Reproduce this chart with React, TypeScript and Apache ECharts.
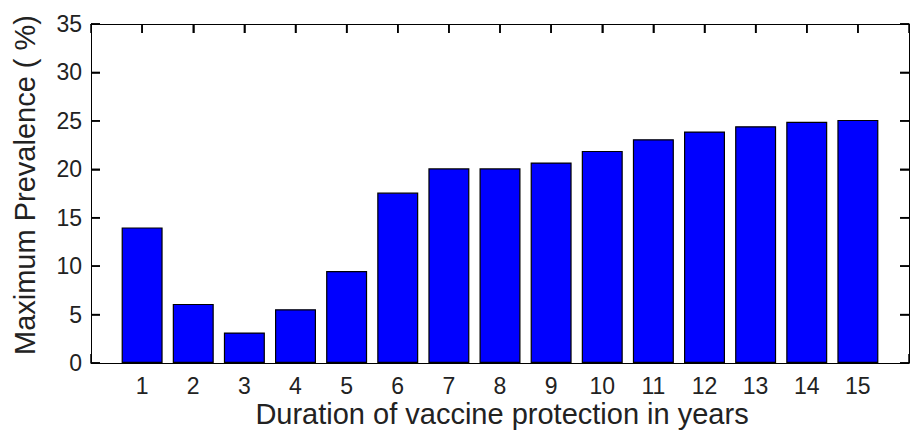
import React, { useEffect, useRef } from "react";
import * as echarts from "echarts";

const years = [1, 2, 3, 4, 5, 6, 7, 8, 9, 10, 11, 12, 13, 14, 15];
const prevalence = [14.0, 6.1, 3.15, 5.55, 9.5, 17.6, 20.1, 20.1, 20.7, 21.9, 23.1, 23.9, 24.45, 24.9, 25.1];
const yTicks = [0, 5, 10, 15, 20, 25, 30, 35];
const xTitle = "Duration of vaccine protection in years";
const yTitle = "Maximum Prevalence ( %)";

const FONT = "'Liberation Sans', Arial, Helvetica, sans-serif";
const X_MIN = 0;
const X_MAX = 16;
const Y_MIN = 0;
const Y_MAX = 35;
const TICK = 9;

const mkLine = () => ({ show: true, onZero: false, lineStyle: { color: "#000", width: 1 } });
const mkTick = () => ({ show: true, inside: true, length: TICK, lineStyle: { color: "#000", width: 1.5 } });

export default function App() {
  const ref = useRef<HTMLDivElement>(null);
  useEffect(() => {
    if (!ref.current) return;
    const chart = echarts.init(ref.current, undefined, { renderer: "svg" });
    const tickStyle = { stroke: "#000", lineWidth: 1.5 };
    chart.setOption({
      animation: false,
      backgroundColor: "#fff",
      grid: { left: 91, top: 24, width: 829, height: 339 },
      xAxis: [
        {
          type: "value",
          min: X_MIN,
          max: X_MAX,
          interval: 1,
          position: "bottom",
          axisLine: mkLine(),
          axisTick: mkTick(),
          splitLine: { show: false },
          axisLabel: {
            margin: 11,
            fontSize: 23,
            fontFamily: FONT,
            color: "#222",
            formatter: (v: number) => (years.indexOf(v) >= 0 ? String(v) : ""),
          },
        },
        {
          type: "value",
          min: X_MIN,
          max: X_MAX,
          interval: 1,
          position: "top",
          axisLine: mkLine(),
          axisTick: mkTick(),
          splitLine: { show: false },
          axisLabel: { show: false },
        },
      ],
      yAxis: [
        {
          type: "value",
          min: Y_MIN,
          max: Y_MAX,
          interval: 5,
          position: "left",
          axisLine: mkLine(),
          axisTick: mkTick(),
          splitLine: { show: false },
          axisLabel: {
            margin: 9,
            fontSize: 23,
            fontFamily: FONT,
            color: "#222",
            formatter: (v: number) => (yTicks.indexOf(v) >= 0 ? String(v) : ""),
          },
        },
        {
          type: "value",
          min: Y_MIN,
          max: Y_MAX,
          interval: 5,
          position: "right",
          axisLine: mkLine(),
          axisTick: mkTick(),
          splitLine: { show: false },
          axisLabel: { show: false },
        },
      ],
      series: [
        {
          type: "custom",
          xAxisIndex: 0,
          yAxisIndex: 0,
          z: 3,
          clip: false,
          silent: true,
          data: yTicks.map((y) => [X_MIN, y]),
          encode: { x: 0, y: 1 },
          renderItem: (params: any, api: any) => {
            const v = api.value(1);
            const l = api.coord([X_MIN, v]);
            const r = api.coord([X_MAX, v]);
            return {
              type: "group",
              children: [
                { type: "line", shape: { x1: l[0], y1: l[1], x2: l[0] + TICK, y2: l[1] }, style: tickStyle },
                { type: "line", shape: { x1: r[0], y1: r[1], x2: r[0] - TICK, y2: r[1] }, style: tickStyle },
              ],
            };
          },
        },
        {
          type: "custom",
          xAxisIndex: 0,
          yAxisIndex: 0,
          z: 1,
          clip: false,
          silent: true,
          data: years.map((y) => [y, Y_MAX]),
          encode: { x: 0, y: 1 },
          renderItem: (params: any, api: any) => {
            const v = api.value(0);
            const t = api.coord([v, Y_MAX]);
            const b = api.coord([v, Y_MIN]);
            return {
              type: "group",
              children: [
                { type: "line", shape: { x1: t[0], y1: t[1], x2: t[0], y2: t[1] + TICK }, style: tickStyle },
                { type: "line", shape: { x1: b[0], y1: b[1], x2: b[0], y2: b[1] - TICK }, style: tickStyle },
              ],
            };
          },
        },
        {
          type: "bar",
          xAxisIndex: 0,
          yAxisIndex: 0,
          z: 2,
          barWidth: 41,
          data: years.map((y, i) => [y, prevalence[i]]),
          itemStyle: { color: "#0000ff", borderColor: "#000", borderWidth: 1.2 },
        },
      ],
      graphic: [
        {
          type: "text",
          x: 502,
          y: 414,
          style: {
            text: xTitle,
            font: `29px ${FONT}`,
            fill: "#222",
            align: "center",
            verticalAlign: "middle",
          },
        },
        {
          type: "text",
          x: 25,
          y: 185,
          rotation: Math.PI / 2,
          style: {
            text: yTitle,
            font: `29px ${FONT}`,
            fill: "#222",
            align: "center",
            verticalAlign: "middle",
          },
        },
      ],
    });
    return () => chart.dispose();
  }, []);
  return (
    <div
      ref={ref}
      style={{ position: "absolute", left: 0, top: 0, width: 912, height: 436 }}
    />
  );
}
